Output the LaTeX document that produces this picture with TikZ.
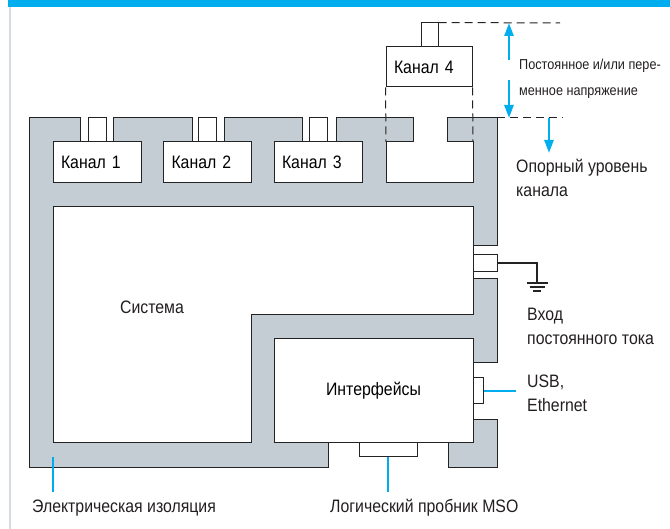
\documentclass[tikz,border=0pt]{standalone}
\usepackage{fontspec}
\setmainfont{Liberation Sans}[FakeStretch=0.88]
\usepackage{tikz}
\usetikzlibrary{positioning, calc, arrows.meta}
\definecolor{isogray}{RGB}{196,205,211}
\definecolor{hdrblue}{RGB}{0,174,239}
\definecolor{edge}{RGB}{35,35,35}
\definecolor{framegray}{RGB}{214,219,224}
\definecolor{ink}{RGB}{35,31,32}
\tikzstyle{BlueArrow} = [
%Create blue arrow style:
hdrblue, line width = 2.5pt,
-{Triangle[width = 9pt, length = 13pt]}
]

\begin{document}
\begin{tikzpicture}[x = 1pt, y = -1pt,
			isolation/.style = {fill = isogray, draw = edge, line width = 1pt},
			sysbox/.style = {fill = white, draw = edge, line width = 1pt},
			channel/.style = {rectangle, draw = edge, fill = white, line width = 1pt, minimum height = 41pt, text width = 72pt, inner sep = 8pt, align = left, font = \fontsize{18}{22}\selectfont},
			plug/.style = {rectangle, draw = edge, fill = white, line width = 1pt, inner sep = 0pt},
			dashline/.style = {draw = edge, line width = 1pt, dash pattern = on 8pt off 5pt},
			lead/.style = {draw = hdrblue, line width = 2.5pt},
			earth/.style = {draw = edge, line width = 2pt},
			caption/.style = {anchor = base west, align = left, inner sep = 0pt, text = ink, font = \fontsize{18}{24.5}\selectfont},
			smallcaption/.style = {caption, font = \fontsize{14.4}{26}\selectfont},
		]

		\useasboundingbox (0,0) rectangle (670,529);
		\fill[hdrblue] (8,0) rectangle (670,7);
		\draw[framegray, line width = 2pt] (10,7) -- (10,529);

		% isolation body
		\draw[isolation] (29,118) -- (80,118) -- (80,142) -- (113,142) -- (113,118)
			-- (192,118) -- (192,142) -- (224,142) -- (224,118)
			-- (302,118) -- (302,142) -- (336,142) -- (336,118)
			-- (413,118) -- (413,142) -- (386,142) -- (386,183) -- (473,183) -- (473,142) -- (447,142) -- (447,118)
			-- (497,118) -- (497,246) -- (473,246) -- (473,279) -- (497,279) -- (497,363) -- (473,363)
			-- (473,420) -- (497,420) -- (497,468) -- (448,468) -- (448,443) -- (328,443) -- (328,468) -- (29,468) -- cycle;
		\draw[sysbox] (53,207) -- (473,207) -- (473,315) -- (251,315) -- (251,443) -- (53,443) -- cycle;

		\node(sys) at (152,307) [font = \fontsize{18}{22}\selectfont, text = ink] {Система};
		\node(ifc) at (373.5,391) [channel, text width = 199pt, minimum height = 104pt, inner sep = 0pt, align = center] {Интерфейсы};

		\node(ch1) at (97,162.5) [channel] {Канал 1};
		\node(ch2) at (207.5,162.5) [channel] {Канал 2};
		\node(ch3) at (318,162.5) [channel] {Канал 3};
		\node(ch4) at (429,67) [channel, minimum height = 40pt, text width = 70pt] {Канал 4};

		\node(p1) at (97,130) [plug, minimum width = 18pt, minimum height = 24pt] {};
		\node(p2) at (207.5,130) [plug, minimum width = 18pt, minimum height = 24pt] {};
		\node(p3) at (318,130) [plug, minimum width = 18pt, minimum height = 24pt] {};
		\node(p4) at (429.5,35) [plug, minimum width = 17pt, minimum height = 24pt] {};

		\node(dc) at (485,263.5) [plug, minimum width = 24pt, minimum height = 17pt] {};
		\node(usb) at (478,391) [plug, minimum width = 10pt, minimum height = 26pt] {};
		\node(mso) at (388,450) [plug, minimum width = 58pt, minimum height = 14pt] {};

		% reference lines of channel 4
		\coordinate(slotL) at (386,142);
		\coordinate(slotR) at (473,142);
		\coordinate(vtop) at (509,23);
		\coordinate(vbot) at (509,118);
		\draw[dashline] (ch4.south west) -- (slotL);
		\draw[dashline] (ch4.south east) -- (slotR);
		\draw[dashline] (p4.north east) -- (560,23);
		\draw[dashline] (497,118) -- (563,118);
		\draw[BlueArrow] (509,60) -- (vtop);
		\draw[BlueArrow] (509,80) -- (vbot);
		\draw[BlueArrow] (549,118) -- (549,153);

		% labels
		\node(volt) at (519,96) [smallcaption] {Постоянное и/или пере-\\менное напряжение};
		\node(ref) at (516,197) [caption] {Опорный уровень\\канала};
		\node(dcin) at (527,345) [caption] {Вход\\постоянного тока};
		\node(net) at (527,412) [caption] {USB,\\Ethernet};
		\node(iso) at (32,512) [caption] {Электрическая изоляция};
		\node(probe) at (330,512) [caption] {Логический пробник MSO};

		% ground of the DC input
		\coordinate(gnd) at (537,283);
		\draw[earth] (dc.east) -| (gnd);
		\draw[earth] ($(gnd)+(-10.5,0)$) -- ++(21,0);
		\draw[earth] ($(gnd)+(-7.5,4)$) -- ++(15,0);
		\draw[earth] ($(gnd)+(-4,8)$) -- ++(8,0);

		% leaders
		\coordinate(isoend) at (53,457);
		\coordinate(netend) at (516,391);
		\draw[lead] (usb.east) -- (netend);
		\draw[lead] (mso.south) -- (mso.south |- 0,492);
		\draw[lead] (isoend) -- (isoend |- 0,492);

	\end{tikzpicture}
\end{document}
